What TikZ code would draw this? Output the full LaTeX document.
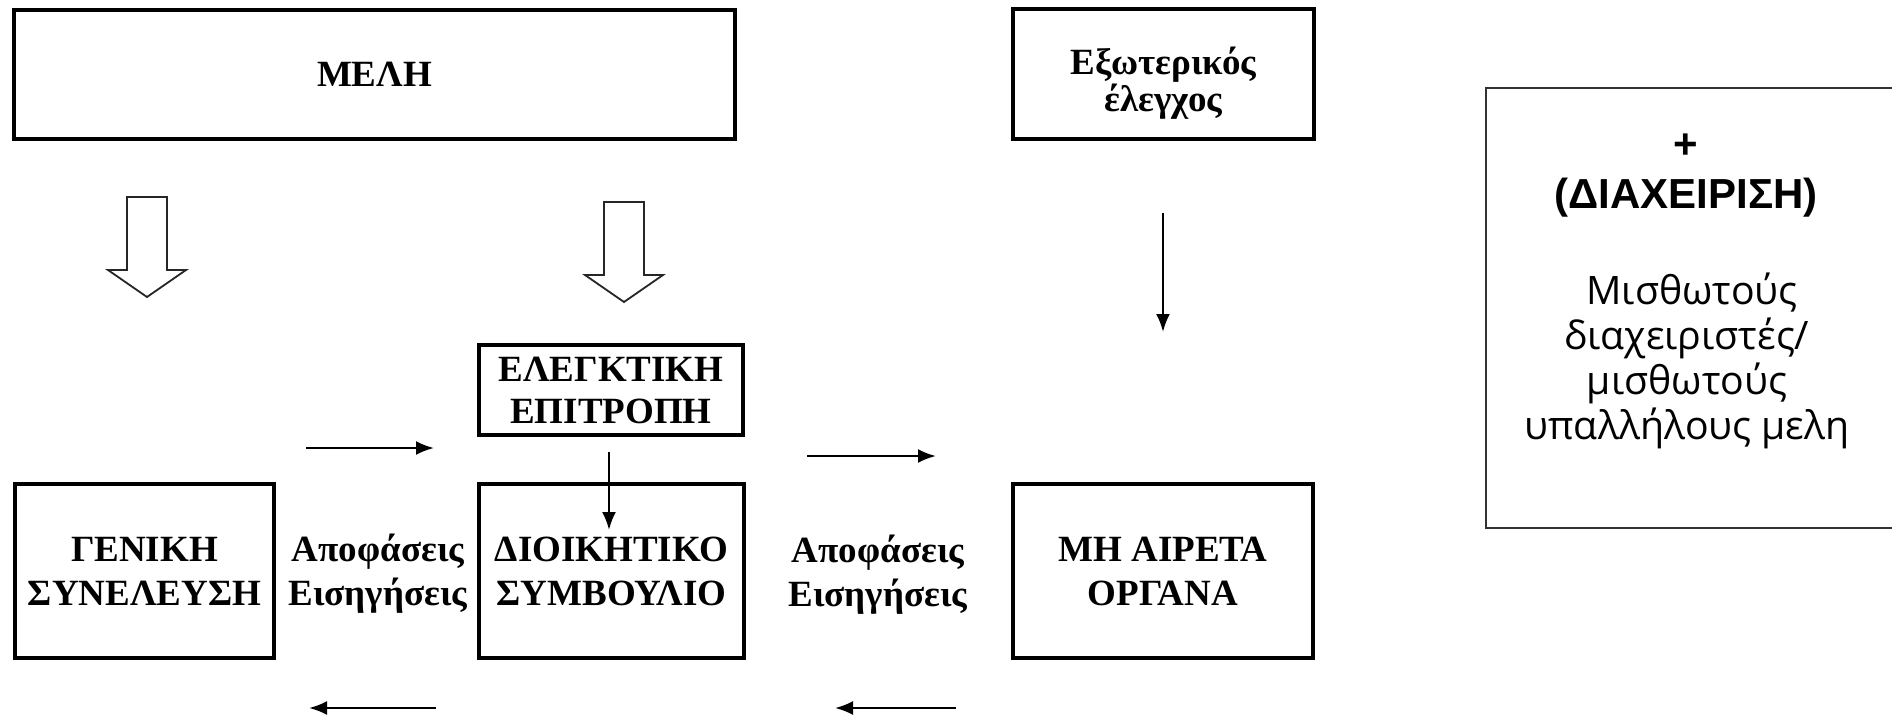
\documentclass[tikz,border=0pt]{standalone}
\usepackage{fontspec}
\setmainfont{Liberation Serif}
\newfontfamily\sidefont{Liberation Sans}
\newfontfamily\bodyfont{Open Sans}
\usetikzlibrary{arrows.meta,positioning,calc}
\colorlet{myframe}{black!80}
\tikzset{>=latex}
\tikzset{
	box/.style={
		rectangle, draw=black, line width=1.75pt,
		align=center, inner sep=0pt,
		font=\fontsize{18.5}{22}\selectfont\bfseries,
	},
	tag/.style={
		align=center, inner sep=0pt,
		font=\fontsize{18.5}{22}\selectfont\bfseries,
	},
	line/.style={
		draw, -{Latex[length=9pt,width=7pt]}, line width=1.2pt,
	},
	hollow/.style={
		draw=black!85, line width=0.9pt, fill=white, line join=miter,
	}
}

\begin{document}
\begin{tikzpicture}[x=0.5pt, y=-0.5pt]
	\useasboundingbox (0,0) rectangle (1892,720);
	% Top row
	\node [box, minimum width=360.5pt, minimum height=64.5pt] (meli) at (374.5,74.5) {ΜΕΛΗ};
	\node [box, minimum width=150.5pt, minimum height=65pt] (exo) at (1163.5,74) {};
	\node [tag, font=\fontsize{18.5}{17}\selectfont\bfseries] (exotext) at ($(exo.center)+(0,9)$) {Εξωτερικός\\ έλεγχος};
	% Middle and bottom row
	\node [box, minimum width=132pt, minimum height=45pt, font=\fontsize{18.5}{21}\selectfont\bfseries] (elegk) at (611,390) {ΕΛΕΓΚΤΙΚΗ\\ ΕΠΙΤΡΟΠΗ};
	\node [box, minimum width=129.5pt, minimum height=87pt] (geniki) at (144.5,571) {ΓΕΝΙΚΗ\\ ΣΥΝΕΛΕΥΣΗ};
	\node [box, minimum width=132.5pt, minimum height=87pt] (dioik) at (611.5,571) {ΔΙΟΙΚΗΤΙΚΟ\\ ΣΥΜΒΟΥΛΙΟ};
	\node [box, minimum width=150pt, minimum height=87pt] (mhair) at (1163,571) {ΜΗ ΑΙΡΕΤΑ\\ ΟΡΓΑΝΑ};
	\node [tag] (apof1) at (378,574) {Αποφάσεις\\ Εισηγήσεις};
	\node [tag] (apof2) at (878,575) {Αποφάσεις\\ Εισηγήσεις};
	% Side box
	\node [draw=myframe, line width=0.8pt, minimum width=204pt, minimum height=220pt, anchor=north west] (mgmt) at (1485,87) {};
	\node [align=center, inner sep=0pt, font=\sidefont\bfseries\fontsize{21}{25}\selectfont] (mgmthead) at (1686,176)
		{+\\ (ΔΙΑΧΕΙΡΙΣΗ)};
	\node [align=center, inner sep=0pt, font=\bodyfont\fontsize{19.6}{22.5}\selectfont] (mgmtbody) at (1687,361)
		{\ Μισθωτούς\\ διαχειριστές/\\ μισθωτούς\\ υπαλλήλους μελη};
	% Hollow arrows from the members
	\foreach \c/\t in {147/197, 624/202} {
		\draw [hollow] (\c-20,\t) -- ++(40,0) -- ++(0,73) -- ++(19,0) -- ++(-39,27) -- ++(-39,-27) -- ++(19,0) -- cycle;
	}
	% Coordinates for the thin arrows
	\coordinate (a1) at (306,448);  \coordinate (a2) at (434,448);
	\coordinate (b1) at (807,456);  \coordinate (b2) at (936,456);
	\coordinate (c1) at (436,708);  \coordinate (c2) at (309,708);
	\coordinate (d1) at (956,708);  \coordinate (d2) at (835,708);
	\coordinate (e1) at (609,452);  \coordinate (e2) at (609,530);
	\coordinate (f1) at (1163,213); \coordinate (f2) at (1163,332);
	\draw [line] (a1) -- (a2);
	\draw [line] (b1) -- (b2);
	\draw [line] (c1) -- (c2);
	\draw [line] (d1) -- (d2);
	\draw [line] (e1) -- (e2);
	\draw [line] (f1) -- (f2);
\end{tikzpicture}
\end{document}
